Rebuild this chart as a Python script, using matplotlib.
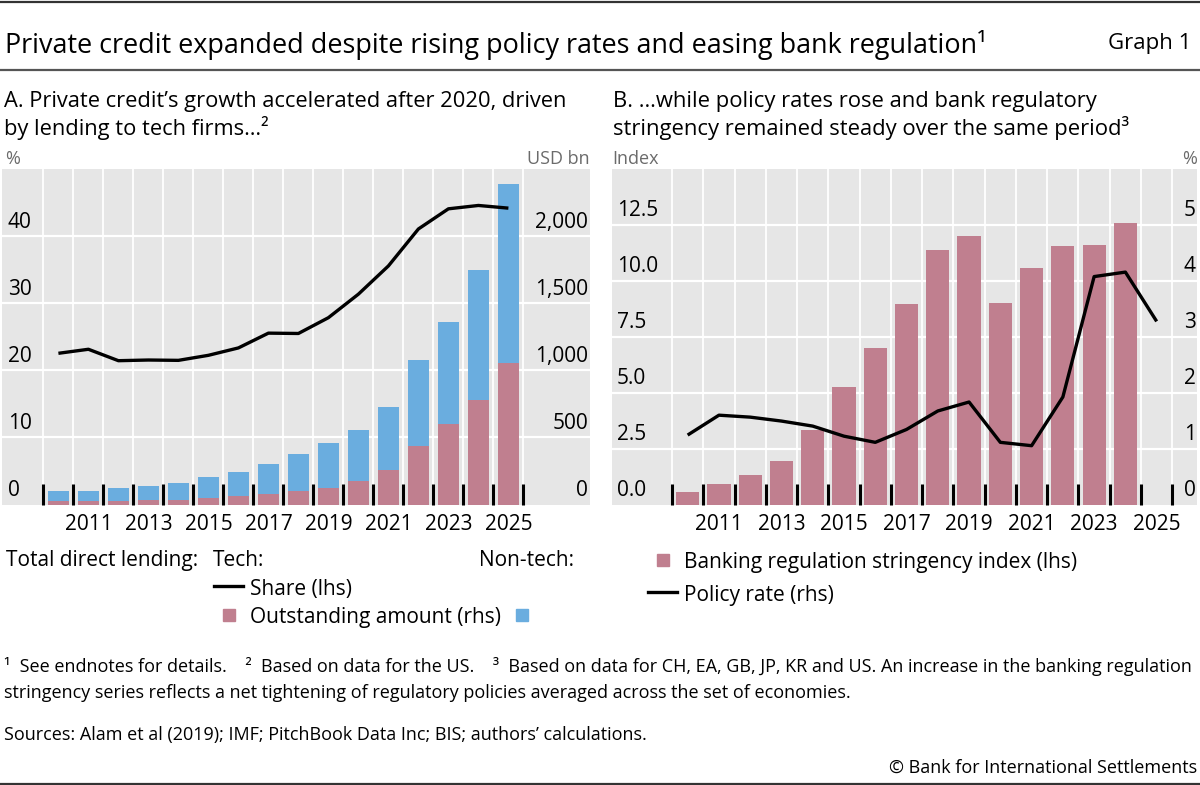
import numpy as np
import matplotlib
matplotlib.use("Agg")
import matplotlib.pyplot as plt
from matplotlib import transforms
from matplotlib.lines import Line2D
from matplotlib.patches import Rectangle

# ---------------- data ----------------
years_a = [2010, 2011, 2012, 2013, 2014, 2015, 2016, 2017, 2018, 2019,
           2020, 2021, 2022, 2023, 2024, 2025]
tech_amount = [24, 26, 28, 30, 32, 47, 60, 80, 97, 124, 176, 258, 437, 596, 774, 1052]
nontech_amount = [73, 78, 93, 104, 129, 156, 185, 223, 277, 332, 375, 467, 635, 764, 968, 1335]
tech_share = [22.5, 23.1, 21.4, 21.5, 21.45, 22.2, 23.3, 25.5, 25.45, 27.8,
              31.3, 35.5, 41.0, 44.0, 44.5, 44.1]

years_b_bars = [2010, 2011, 2012, 2013, 2014, 2015, 2016, 2017, 2018, 2019,
                2020, 2021, 2022, 2023, 2024]
stringency = [0.58, 0.90, 1.33, 1.93, 3.32, 5.24, 6.99, 8.95, 11.38, 12.0,
              8.98, 10.54, 11.53, 11.59, 12.57]
years_b_line = years_a
policy_rate = [1.24, 1.595, 1.56, 1.49, 1.40, 1.22, 1.11, 1.34, 1.67, 1.83,
               1.11, 1.05, 1.92, 4.07, 4.15, 3.27]

xtick_years = [2011, 2013, 2015, 2017, 2019, 2021, 2023, 2025]
a_left_ticks = [0, 10, 20, 30, 40]
a_right_ticks = [0, 500, 1000, 1500, 2000]
a_right_labels = ["0", "500", "1,000", "1,500", "2,000"]
b_left_ticks = [0.0, 2.5, 5.0, 7.5, 10.0, 12.5]
b_left_labels = ["0.0", "2.5", "5.0", "7.5", "10.0", "12.5"]
b_right_ticks = [0, 1, 2, 3, 4, 5]

# ---------------- style ----------------
PINK = "#c07f8f"
BLUE = "#6aaddf"
BG = "#e6e6e6"
UNIT = "#6b6b6b"
FONT = "Open Sans"
plt.rcParams["font.family"] = [FONT, "DejaVu Sans"]

W, H = 1200, 785
fig = plt.figure(figsize=(12, 7.85), dpi=100)
renderer = fig.canvas.get_renderer()


def X(px):
    return px / W


def Y(py):
    return 1 - py / H


def ftext(x, y, s, size, ha="left", va="center_baseline", color="black", fit=None):
    t = fig.text(X(x), Y(y), s, fontsize=size, ha=ha, va=va, color=color)
    if fit is not None:
        w = t.get_window_extent(renderer).width
        t.set_fontsize(size * fit / w)
    return t


def axes_px(l, t, r, b):
    return fig.add_axes([X(l), Y(b), (r - l) / W, (b - t) / H])


TICK_FS = 15


def setup_panel(ax, xlim, ylim, gridvals):
    ax.set_facecolor(BG)
    for sp in ax.spines.values():
        sp.set_visible(False)
    ax.set_xlim(*xlim)
    ax.set_ylim(*ylim)
    ax.set_xticks(np.arange(2009.5, 2026.0, 1.0))
    ax.set_xticks(xtick_years, minor=True)
    ax.set_xticklabels([str(y) for y in xtick_years], minor=True, fontsize=TICK_FS)
    ax.tick_params(axis="x", which="major", direction="in", length=15, width=2.2,
                   color="black", labelbottom=False, bottom=True, top=False)
    ax.tick_params(axis="x", which="minor", length=0, pad=7)
    ax.set_yticks(gridvals)
    ax.tick_params(axis="y", length=0, labelleft=False, labelright=False)
    ax.grid(True, axis="y", color="white", lw=1.6)
    ax.grid(True, axis="x", which="major", color="white", lw=1.3)
    ax.set_axisbelow(True)


def ylabels(ax, vals, labels, xpx, ha):
    trans = transforms.blended_transform_factory(fig.transFigure, ax.transData)
    trans = trans + transforms.ScaledTranslation(0, 8.0 / 100, fig.dpi_scale_trans)
    for v, lab in zip(vals, labels):
        ax.text(X(xpx), v, lab, transform=trans, ha=ha, va="baseline",
                fontsize=TICK_FS, color="black", clip_on=False)


# ---------------- rules ----------------
fig.add_artist(Line2D([0, 1], [Y(1.5), Y(1.5)], color="#333333", lw=1.6))
fig.add_artist(Line2D([0, 1], [Y(70), Y(70)], color="#555555", lw=1.6))
fig.add_artist(Line2D([0, 1], [Y(783.5), Y(783.5)], color="#333333", lw=1.6))

# ---------------- titles ----------------
ftext(5, 41, "Private credit expanded despite rising policy rates and easing bank regulation\u00b9",
      17.5, fit=982)
ftext(1191, 41, "Graph 1", 16, ha="right")

tA = ftext(4, 99, "A. Private credit\u2019s growth accelerated after 2020, driven", 14.5, fit=563)
fsA = tA.get_fontsize()
ftext(4, 125, "by lending to tech firms\u2026\u00b2", fsA)
tB = ftext(613, 99, "B. \u2026while policy rates rose and bank regulatory", 14.5, fit=485)
ftext(613, 125, "stringency remained steady over the same period\u00b3", tB.get_fontsize())

ftext(5, 157, "%", 13, color=UNIT)
ftext(590, 157, "USD bn", 13, ha="right", color=UNIT)
ftext(612, 157, "Index", 13, color=UNIT)
ftext(1197, 157, "%", 13, ha="right", color=UNIT)

# ---------------- panel A ----------------
axA = axes_px(2, 168.5, 590, 504.5)
setup_panel(axA, (2008.12, 2027.72), (0, 2500), a_right_ticks[1:])
axA.bar(years_a, tech_amount, width=0.72, color=PINK, zorder=2)
axA.bar(years_a, nontech_amount, bottom=tech_amount, width=0.72, color=BLUE, zorder=2)
axA2 = axA.twinx()
axA2.set_ylim(0, 50)
axA2.plot(years_a, tech_share, color="black", lw=2.4, solid_capstyle="butt")
axA2.set_axis_off()
ylabels(axA2, a_left_ticks, [str(v) for v in a_left_ticks], 8, "left")
ylabels(axA, a_right_ticks, a_right_labels, 588, "right")

# ---------------- panel B ----------------
axB = axes_px(612, 168.5, 1197, 504.5)
setup_panel(axB, (2007.58, 2026.29), (0, 15), b_left_ticks[1:])
axB.bar(years_b_bars, stringency, width=0.74, color=PINK, zorder=2)
axB2 = axB.twinx()
axB2.set_ylim(0, 6)
axB2.plot(years_b_line, policy_rate, color="black", lw=2.4, solid_capstyle="butt")
axB2.set_axis_off()
ylabels(axB, b_left_ticks, b_left_labels, 617, "left")
ylabels(axB2, b_right_ticks, [str(v) for v in b_right_ticks], 1196, "right")

# ---------------- legends ----------------
LEG_FS = 15
ftext(6, 558, "Total direct lending:", LEG_FS)
ftext(213, 558, "Tech:", LEG_FS)
ftext(479, 558, "Non-tech:", LEG_FS)
fig.add_artist(Line2D([X(214), X(243)], [Y(586), Y(586)], color="black", lw=2.4))
ftext(250, 587, "Share (lhs)", LEG_FS)
fig.add_artist(Rectangle((X(223), Y(621)), 12 / W, 12 / H, color=PINK))
ftext(250, 615, "Outstanding amount (rhs)", LEG_FS)
fig.add_artist(Rectangle((X(516), Y(621)), 12 / W, 12 / H, color=BLUE))

fig.add_artist(Rectangle((X(657), Y(566)), 12 / W, 12 / H, color=PINK))
ftext(684, 560, "Banking regulation stringency index (lhs)", LEG_FS)
fig.add_artist(Line2D([X(648), X(677)], [Y(592), Y(592)], color="black", lw=2.4))
ftext(684, 593, "Policy rate (rhs)", LEG_FS)

# ---------------- footnotes ----------------
FN = 12
t1 = ftext(4, 665, "\u00b9  See endnotes for details.    \u00b2  Based on data for the US.    "
           "\u00b3  Based on data for CH, EA, GB, JP, KR and US. An increase in the banking regulation",
           FN, fit=1187)
ftext(4, 691, "stringency series reflects a net tightening of regulatory policies averaged across the set of economies.",
      t1.get_fontsize())
ftext(4, 733, "Sources: Alam et al (2019); IMF; PitchBook Data Inc; BIS; authors\u2019 calculations.",
      t1.get_fontsize())
ftext(1197, 766, "\u00a9 Bank for International Settlements", t1.get_fontsize(), ha="right")

fig.savefig("out.png", dpi=100)
